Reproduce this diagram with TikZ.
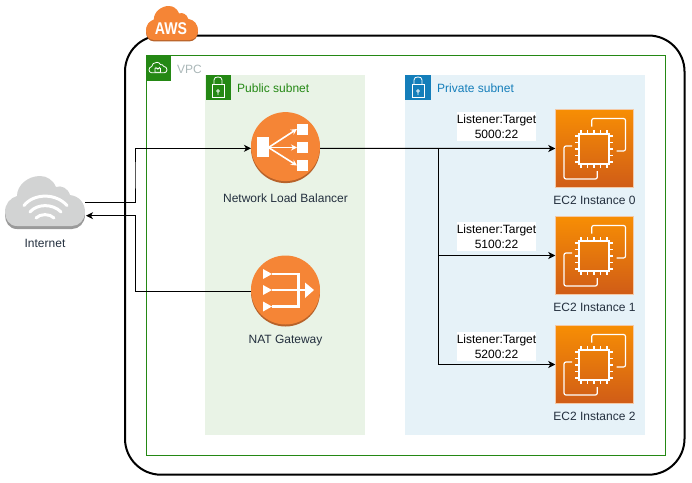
\documentclass[tikz,border=0pt]{standalone}
\usepackage{fontspec}
\setmainfont{Liberation Sans}
\usetikzlibrary{calc, arrows.meta}

\definecolor{AwsOrange}{HTML}{F58536}
\definecolor{AwsOrangeDark}{HTML}{B7622A}
\definecolor{CloudGray}{HTML}{D2D3D3}
\definecolor{CloudGrayDark}{HTML}{9A9A9A}
\definecolor{VpcGreen}{HTML}{248814}
\definecolor{VpcText}{HTML}{AAB7B8}
\definecolor{PublicFill}{HTML}{E9F3E6}
\definecolor{PrivateFill}{HTML}{E6F2F8}
\definecolor{PrivateBlue}{HTML}{147EBA}
\definecolor{TextDark}{HTML}{232F3E}
\definecolor{EcTop}{HTML}{F78E04}
\definecolor{EcBottom}{HTML}{D05C17}
\definecolor{EcEdge}{HTML}{F4C9A6}

% Silueta de la nube, 80 x 53 en coordenadas locales
\newcommand{\CloudShape}{
(12,50) .. controls (4,50) and (0,43) .. (0,36)
.. controls (0,28) and (5,22) .. (12,20)
.. controls (12,9) and (23,0) .. (35,0)
.. controls (42,0) and (48,4) .. (51,11)
.. controls (56,9) and (63,12) .. (65,19)
.. controls (74,20) and (80,27) .. (80,36)
.. controls (80,44) and (74,50) .. (67,50) -- cycle
}

\tikzset{
    txt/.style={font=\fontsize{12}{14.5}\selectfont, text=TextDark, inner sep=0pt, align=center},
    conn/.style={line width=1pt, -{Stealth[length=7pt, width=7pt, inset=2pt]}},
    roundicon/.style={
        circle, minimum size=69pt, inner sep=0pt, outer sep=0pt,
        preaction={fill=AwsOrangeDark, transform canvas={yshift=-.3pt}},
        preaction={fill=AwsOrange, transform canvas={yshift=1.7pt}}
    },
    ecbox/.style={
        rectangle, minimum size=78.5pt, inner sep=0pt, outer sep=0pt,
        top color=EcTop, bottom color=EcBottom, draw=EcEdge, line width=.6pt
    },
    portlabel/.style={txt, text=black, fill=white, minimum width=79pt, minimum height=29pt},
    lock icon/.pic={
        \draw[white, line width=.8pt] (-6,-4) rectangle (6,9);
        \draw[white, line width=.8pt] (-4,-4) -- (-4,-8) .. controls (-4,-10.5) and (-2,-11) .. (0,-11)
            .. controls (2,-11) and (4,-10.5) .. (4,-8) -- (4,-4);
        \draw[white, line width=.7pt] (0,3) circle (1.3) (0,4.3) -- (0,7);
    },
    nlb icon/.pic={
        \fill[white] (-28.5,-10.5) rectangle (-16.5,9.5);
        \foreach \yy in {-18.5, 0, 18} {
            \fill[white] (11.5,\yy-5.5) rectangle (22.5,\yy+5.5);
            \draw[white, line width=1.6pt, -{Stealth[length=6pt, width=6pt]}] (-17,0) -- (11.5,\yy);
        }
    },
    nat icon/.pic={
        \draw[white, line width=2.2pt] (-14,-16.5) -- (13,-16.5) -- (13,16) -- (-14,16);
        \draw[white, line width=2.2pt] (-14,-.5) -- (20,-.5);
        \fill[white] (19.5,-8) -- (28.5,-.5) -- (19.5,7.5) -- cycle;
        \foreach \yy in {-16.5, -.5, 16} {
            \fill[white] (-22.5,\yy-5) -- (-13.5,\yy) -- (-22.5,\yy+5) -- cycle;
        }
    },
    ec2 icon/.pic={
        \draw[white, line width=1.3pt] (-15,-14.5) rectangle (15,15.5);
        \foreach \pp in {-13, -6.5, 0, 6.5, 13} {
            \draw[white, line width=1.1pt] (\pp,-18.5) -- (\pp,-14.5) (\pp,15.5) -- (\pp,19.5);
            \draw[white, line width=1.1pt] (-19,\pp+.5) -- (-15,\pp+.5) (15,\pp+.5) -- (19,\pp+.5);
        }
        \draw[white, line width=1.2pt, rounded corners=2pt] (-2.3,-22) -- (-2.3,-30) -- (31.5,-30) -- (31.5,2.5) -- (22.5,2.5);
        \draw[white, line width=1.2pt, rounded corners=2pt] (-22,-2.5) -- (-30,-2.5) -- (-30,30.5) -- (3.3,30.5) -- (3.3,22.5);
    }
}

\begin{document}
\begin{tikzpicture}[x=1pt, y=-1pt]

\useasboundingbox (0,0) rectangle (692,482);

% Cajas exteriores
\draw[line width=2pt, rounded corners=36pt] (125,35.5) rectangle (684.5,474.7);
\draw[VpcGreen, line width=.8pt] (146,55.7) rectangle (665.7,455);
\fill[PublicFill] (205,75) rectangle (365,435);
\fill[PrivateFill] (405,75) rectangle (645,435);

% Nube de AWS
\begin{scope}[shift={(146,6)}, xscale=.65, yscale=.68]
\fill[AwsOrangeDark] [yshift=-2pt] \CloudShape;
\fill[AwsOrange] \CloudShape;
\end{scope}
\node[font=\fontsize{17}{17}\bfseries\selectfont, text=white, inner sep=0pt] (awsname) at (171,29) {\scalebox{.83}[1]{AWS}};

% Etiquetas de los grupos
\fill[VpcGreen] (146,55.7) rectangle (170.7,80.7);
\begin{scope}[shift={(149,62.3)}, xscale=.225, yscale=.21]
\draw[white, line width=.8pt] \CloudShape;
\end{scope}
\draw[white, line width=.7pt] (155,68.3) rectangle (160.5,72.3) (156,68.3) -- (156,67.5) arc (180:0:1.75) -- (159.5,68.3);
\node[txt, anchor=west, text=VpcText] (vpcname) at (177,69) {VPC};

\fill[VpcGreen] (206,75) rectangle (230.5,100);
\pic at (218,88) {lock icon};
\node[txt, anchor=west, text=VpcGreen] (publicname) at (237,88.5) {Public subnet};

\fill[PrivateBlue] (405,75) rectangle (430.5,100);
\pic at (418,88) {lock icon};
\node[txt, anchor=west, text=PrivateBlue] (privatename) at (437,88.5) {Private subnet};

% Internet
\begin{scope}[shift={(5,176)}]
\fill[CloudGrayDark] [yshift=-3pt] \CloudShape;
\fill[CloudGray] \CloudShape;
\end{scope}
\draw[white, line width=3pt, line cap=round] (36,218) .. controls (40,213.5) and (50,213.5) .. (54,218);
\draw[white, line width=3pt, line cap=round] (30,212) .. controls (37,203.5) and (53,203.5) .. (61,212);
\draw[white, line width=3pt, line cap=round] (24,205.5) .. controls (34,193) and (56,193) .. (67,205.5);
\node[minimum width=80pt, minimum height=53pt, inner sep=0pt, outer sep=0pt] (internet) at (45,202.3) {};
\node[txt] (internetname) at (45,243) {Internet};
\coordinate (internetin) at (86,215.7);

% Balanceador y NAT
\node[roundicon] (nlb) at (285.5,148.3) {};
\pic[yshift=.8pt] at (nlb.center) {nlb icon};
\node[txt] (nlbname) at (285.5,198) {Network Load Balancer};

\node[roundicon] (nat) at (285.5,291.7) {};
\pic[yshift=1.2pt] at (nat.center) {nat icon};
\node[txt] (natname) at (285.5,341) {NAT Gateway};

% Instancias
\foreach \idx/\yy/\ly/\port in {0/148.5/126.5/5000, 1/255.5/236.7/5100, 2/364.5/346.7/5200} {
    \node[ecbox] (ec\idx) at (594.5,\yy) {};
    \pic[xshift=-.5pt] at (ec\idx.center) {ec2 icon};
    \node[txt] (ecname\idx) at ($(ec\idx.center)+(0,52)$) {EC2 Instance \idx};
    \node[portlabel] (port\idx) at (496.5,\ly) {Listener:Target\\\port:22};
}

% Conectores
\coordinate (trunk) at (135,175);
\coordinate (split) at (438,148.4);

\draw[conn] (internet.east) -| (trunk) |- (nlb.west);
\draw[conn] (nat.west) -- (nat.west -| trunk) |- (internetin);
\draw[conn] (nlb.east) -- (ec0.west);
\draw[conn] (split) |- (ec1.west);
\draw[conn] (split) |- (ec2.west);

\end{tikzpicture}
\end{document}
